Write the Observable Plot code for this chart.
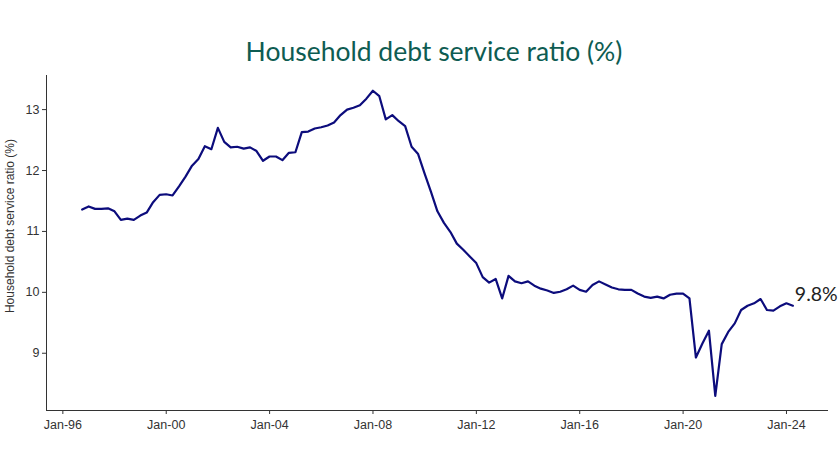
<!DOCTYPE html>
<html>
<head>
<meta charset="utf-8">
<script src="https://cdn.jsdelivr.net/npm/d3@7"></script>
<script src="https://cdn.jsdelivr.net/npm/@observablehq/plot@0.6"></script>
<style>
  html, body { margin: 0; padding: 0; background: #fff; }
  #title {
    position: relative; width: 840px; height: 72px; box-sizing: border-box;
    padding-top: 38px; padding-left: 28px; text-align: center;
    font-family: "Lato", sans-serif; font-size: 26.5px; line-height: 26px;
    color: #0e5c52; font-weight: 400;
  }
  #chart svg { overflow: visible; }
</style>
</head>
<body>
<div id="title"></div>
<div id="chart"></div>
<script>
// Quarterly series, Sep-1996 to Mar-2024 (quarter-end dates)
const firstQuarterEnd = {year: 1996, month: 9};
const ratio = [
  11.36, 11.41, 11.37, 11.37, 11.38, 11.33, 11.19, 11.21, 11.19, 11.26,
  11.31, 11.48, 11.60, 11.61, 11.59, 11.74, 11.90, 12.08, 12.19, 12.40,
  12.35, 12.70, 12.47, 12.38, 12.39, 12.36, 12.38, 12.32, 12.16, 12.23,
  12.23, 12.17, 12.29, 12.30, 12.63, 12.64, 12.69, 12.71, 12.74, 12.79,
  12.91, 13.00, 13.03, 13.07, 13.18, 13.31, 13.22, 12.84, 12.91, 12.81,
  12.73, 12.39, 12.27, 11.95, 11.65, 11.33, 11.14, 10.99, 10.80, 10.70,
  10.59, 10.48, 10.25, 10.16, 10.22, 9.90, 10.27, 10.18, 10.15, 10.18,
  10.11, 10.06, 10.03, 9.99, 10.01, 10.05, 10.11, 10.04, 10.01, 10.12,
  10.18, 10.13, 10.08, 10.05, 10.04, 10.04, 9.98, 9.93, 9.91, 9.93,
  9.90, 9.96, 9.98, 9.98, 9.90, 8.93, 9.16, 9.37, 8.30, 9.15,
  9.35, 9.49, 9.71, 9.78, 9.82, 9.89, 9.71, 9.70, 9.77, 9.82,
  9.78
];
const xTickYears = [1996, 2000, 2004, 2008, 2012, 2016, 2020, 2024];
const yTicks = [9, 10, 11, 12, 13];
const titleText = "Household debt service ratio (%)";
const yLabel = "Household debt service ratio (%)";

document.getElementById("title").textContent = titleText;

const data = ratio.map((v, i) => ({
  date: new Date(Date.UTC(firstQuarterEnd.year, firstQuarterEnd.month + 3 * i, 0)),
  value: v
}));
const last = data[data.length - 1];
const lastLabel = d3.format(".1f")(last.value) + "%";

const xDomain = [new Date(Date.UTC(1995, 4, 15)), new Date(Date.UTC(2025, 7, 17))];
const yDomain = [8.06, 13.56];
const fmt = d3.utcFormat("%b-%y");

const plot = Plot.plot({
  width: 840,
  height: 400,
  marginTop: 3,
  marginBottom: 62,
  marginLeft: 46,
  marginRight: 12,
  style: {fontFamily: "'Liberation Sans', Arial, sans-serif", fontSize: "12.5px", color: "#333", background: "#fff", overflow: "visible"},
  x: {type: "utc", domain: xDomain},
  y: {domain: yDomain},
  marks: [
    Plot.axisX({ticks: xTickYears.map(y => new Date(Date.UTC(y, 0, 1))), tickFormat: fmt, tickSize: 4, tickPadding: 6, label: null, fontSize: 12.5, color: "#333"}),
    Plot.axisY({ticks: yTicks, tickFormat: d3.format("d"), tickSize: 4, tickPadding: 3, label: null, fontSize: 12.5, color: "#333"}),
    Plot.ruleX([xDomain[0]], {stroke: "#333", strokeWidth: 1}),
    Plot.ruleY([yDomain[0]], {stroke: "#333", strokeWidth: 1}),
    Plot.line(data, {x: "date", y: "value", stroke: "#0c0c7c", strokeWidth: 2.2, curve: "linear"}),
    Plot.text([last], {x: "date", y: "value", text: () => lastLabel, textAnchor: "start", dx: 2, dy: -11, fontSize: 19.5, fill: "#222", fontFamily: "Lato, sans-serif"}),
    Plot.text([yLabel], {frameAnchor: "left", text: d => d, textAnchor: "middle", rotate: -90, dx: -36, dy: -17, fontSize: 12, fill: "#333"})
  ]
});
document.getElementById("chart").appendChild(plot);
</script>
</body>
</html>
